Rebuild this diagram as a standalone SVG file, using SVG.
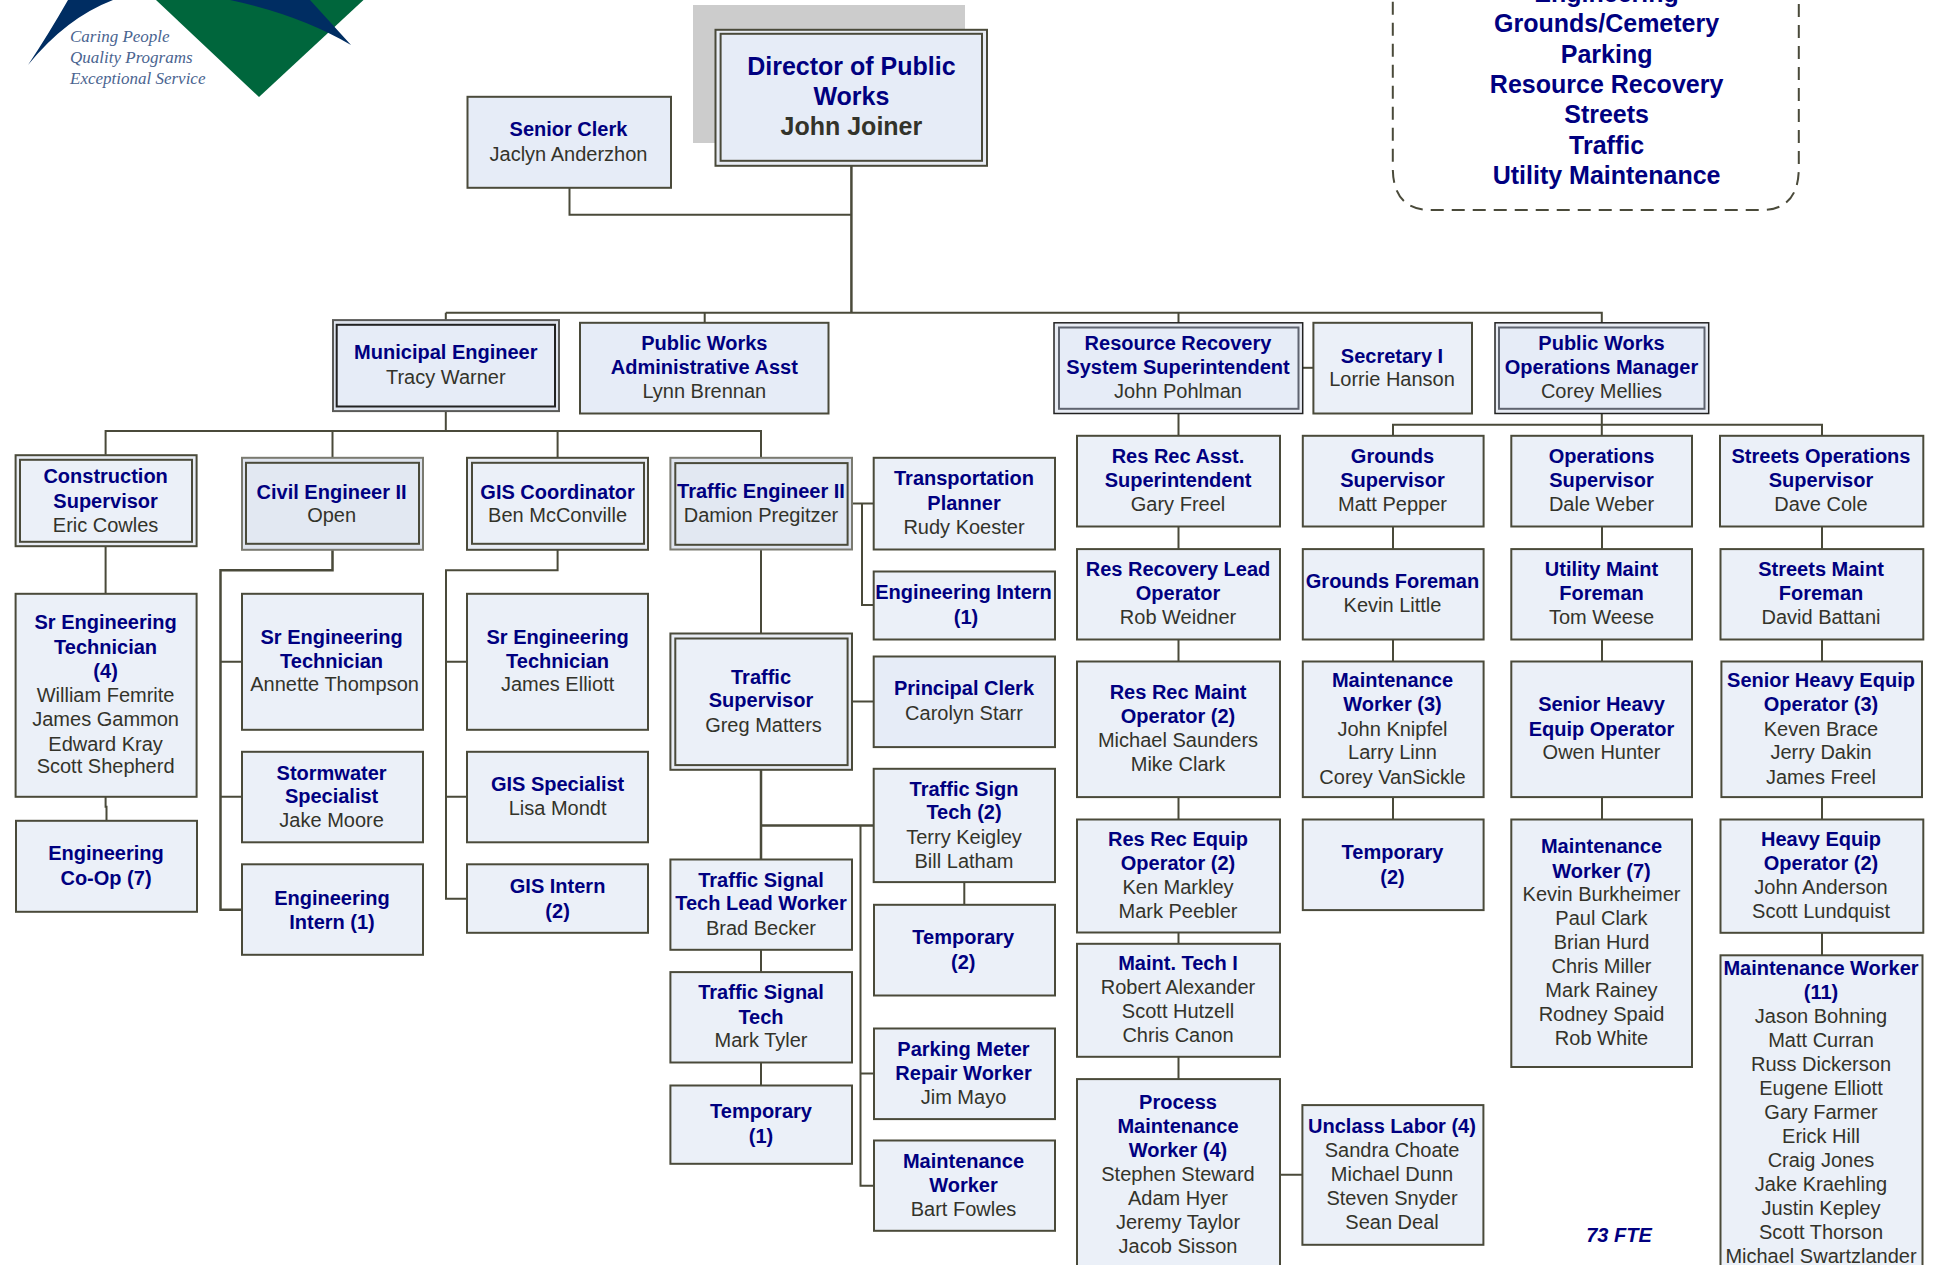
<svg xmlns="http://www.w3.org/2000/svg" width="1936" height="1265" viewBox="0 0 1936 1265">
<style>
text{font-family:"Liberation Sans",Arial,sans-serif;font-size:20px;text-anchor:middle}
.t{font-weight:bold;fill:#000080}
.n{fill:#33332a}
.big{font-size:25px}
.b{fill:#ebf0f8;stroke:#4a4a3a;stroke-width:2}
.c{fill:#e6ecf7}
.d{fill:#e2e8f2}
.o{fill:#e8ecf4;stroke:#4a4a3a;stroke-width:2}
.ol{fill:#dfe4ee;stroke:#7a7a70;stroke-width:2}
.ok{fill:#e8ecf4;stroke:#222222;stroke-width:1.500}
.l{fill:none;stroke:#4a4a3a;stroke-width:2}
.l3{fill:none;stroke:#4a4a3a;stroke-width:2.500}
.logo{font-family:"Liberation Serif","Times New Roman",serif;font-style:italic;font-size:17px;text-anchor:start;fill:#4a6490}
</style>
<rect width="1936" height="1265" fill="#ffffff"/>
<g id="logo">
<path d="M156 0L259 97L363.500 0Z" fill="#00663c"/>
<path d="M68 0Q48 35 28 65Q66 18 113 0Z" fill="#002d62"/>
<path d="M230 0Q300 15 351 45L310 0Z" fill="#002d62"/>
<text class="logo" x="70" y="41.500">Caring People</text>
<text class="logo" x="70" y="63">Quality Programs</text>
<text class="logo" x="70" y="84">Exceptional Service</text>
</g>
<rect id="backdrop" x="693" y="5" width="272" height="138" fill="#cccccc"/>
<g transform="translate(0 0.800)">
<g id="connectors">
<path class="l3" d="M851.400 165V312"/>
<path class="l" d="M569.500 187V214H851.400"/>
<path class="l" d="M445.800 312H1601.800V322"/>
<path class="l" d="M445.800 312V320M704.700 312V322M1178.500 312V322"/>
<path class="l" d="M1302.700 367H1313.400"/>
<path class="l" d="M445.800 410V430.300"/>
<path class="l" d="M105.600 454V430.300H761V457M332.500 430.300V457M557.600 430.300V457"/>
<path class="l" d="M105.600 545V593M105.600 796V806H106.500V820"/>
<path class="l3" d="M332.500 549V569.400H220.500V909H242"/>
<path class="l" d="M220.500 661H242M220.500 796H242"/>
<path class="l" d="M557.600 549V569.400H446V898H467M446 661H467M446 796H467"/>
<path class="l" d="M852 502.700H873.700M862 502.700V604.300H873.700"/>
<path class="l" d="M761 548.700V632.700M852 700.700H873.700"/>
<path class="l3" d="M761 769V858.700M761 824.700H873.700"/>
<path class="l" d="M860.500 824.700V1185H874M860.500 1072.700H874"/>
<path class="l" d="M964.300 881V904M761 949V971.300M761 1061.700V1084.700"/>
<path class="l" d="M1178.500 412.700V435M1178.500 525.700V548.300M1178.500 638.700V660.700M1178.500 796.300V818.700M1178.500 931.700V943M1178.500 1056V1078.300M1280 1174H1302.400"/>
<path class="l" d="M1601.800 412.700V435M1393 435V424H1822V435"/>
<path class="l" d="M1393 525.700V548.300M1393 638.700V660.700M1393 796.300V818.700"/>
<path class="l" d="M1602 525.700V548.300M1602 638.700V660.700M1602 796.300V818.700"/>
<path class="l" d="M1822 525.700V548.300M1822 638.700V660.700M1822 796.300V818.700M1822 932V954.500"/>
</g>
<g id="areas">
<path d="M1392.800 -20V167Q1392.800 209.300 1431 209.300H1761Q1798.800 209.300 1798.800 167V-20" fill="none" stroke="#4a4a3a" stroke-width="2" stroke-dasharray="13 8"/>
<text class="t big" x="1606.600" y="1.500">Engineering</text>
<text class="t big" x="1606.600" y="31.700">Grounds/Cemetery</text>
<text class="t big" x="1606.600" y="62">Parking</text>
<text class="t big" x="1606.600" y="92">Resource Recovery</text>
<text class="t big" x="1606.600" y="122.500">Streets</text>
<text class="t big" x="1606.600" y="153">Traffic</text>
<text class="t big" x="1606.600" y="183">Utility Maintenance</text>
<text class="t" style="font-style:italic" x="1619" y="1241.700">73 FTE</text>
</g>
<g id="director"><rect class="o" x="715.500" y="29" width="271.500" height="136"/><rect class="b c" x="720.600" y="33" width="261.400" height="127"/>
<text class="t big" x="851.400" y="74">Director of Public</text><text class="t big" x="851.400" y="104">Works</text><text class="n big" x="851.400" y="134" style="font-weight:bold">John Joiner</text></g>
<g id="senior-clerk"><rect class="b c" x="467.500" y="96" width="203.500" height="91"/>
<text class="t" x="568.500" y="135.700">Senior Clerk</text><text class="n" x="568.500" y="160">Jaclyn Anderzhon</text></g>
<g id="municipal-engineer"><rect class="ol" style="stroke:#5a5a58" x="333" y="319.300" width="226" height="91"/><rect class="b c" style="stroke:#222222" x="336.700" y="324" width="218.300" height="81.700"/>
<text class="t" x="445.800" y="358.300">Municipal Engineer</text><text class="n" x="445.800" y="383.300">Tracy Warner</text></g>
<g id="pw-admin"><rect class="b c" x="580" y="322" width="248.500" height="90.700"/>
<text class="t" x="704.300" y="349">Public Works</text><text class="t" x="704.300" y="373">Administrative Asst</text><text class="n" x="704.300" y="397">Lynn Brennan</text></g>
<g id="rr-superintendent"><rect class="ok" x="1054" y="322" width="248.700" height="90.700"/><rect class="b c" style="stroke:#5f6470" x="1059" y="326.700" width="239.500" height="81.300"/>
<text class="t" x="1178" y="349">Resource Recovery</text><text class="t" x="1178" y="373">System Superintendent</text><text class="n" x="1178" y="397">John Pohlman</text></g>
<g id="secretary"><rect class="b" x="1313.400" y="322" width="158.600" height="90.700"/>
<text class="t" x="1392" y="362">Secretary I</text><text class="n" x="1392" y="385">Lorrie Hanson</text></g>
<g id="pw-ops"><rect class="ok" x="1495" y="322" width="213.700" height="90.700"/><rect class="b c" style="stroke:#5f6470" x="1499" y="326.700" width="205.500" height="81.300"/>
<text class="t" x="1601.500" y="349">Public Works</text><text class="t" x="1601.500" y="373">Operations Manager</text><text class="n" x="1601.500" y="397">Corey Mellies</text></g>
<g id="construction"><rect class="o" x="15.600" y="454.400" width="181" height="91"/><rect class="b" x="20" y="459" width="172" height="82"/>
<text class="t" x="105.600" y="482.700">Construction</text><text class="t" x="105.600" y="506.800">Supervisor</text><text class="n" x="105.600" y="531">Eric Cowles</text></g>
<g id="civil"><rect class="ol" x="242" y="457" width="181" height="92"/><rect class="b d" x="246" y="462" width="173" height="81"/>
<text class="t" x="331.600" y="497.800">Civil Engineer II</text><text class="n" x="331.600" y="521.600">Open</text></g>
<g id="gis-coord"><rect class="o" x="467" y="457" width="181" height="92"/><rect class="b" x="472" y="462" width="172" height="81"/>
<text class="t" x="557.600" y="497.800">GIS Coordinator</text><text class="n" x="557.600" y="521.600">Ben McConville</text></g>
<g id="traffic-eng"><rect class="ol" x="670.400" y="457" width="181.600" height="91.700"/><rect class="b d" x="675.300" y="462.300" width="172.300" height="81.700"/>
<text class="t" x="761" y="497.300">Traffic Engineer II</text><text class="n" x="761" y="521.300">Damion Pregitzer</text></g>
<g id="transportation"><rect class="b" x="873.700" y="457" width="181.300" height="91.700"/>
<text class="t" x="964" y="484.300">Transportation</text><text class="t" x="964" y="509.300">Planner</text><text class="n" x="964" y="533.300">Rudy Koester</text></g>
<g id="eng-intern-t"><rect class="b" x="873.700" y="570.700" width="181.300" height="68"/>
<text class="t" x="963.500" y="598.700">Engineering Intern</text><text class="t" x="966" y="623.300">(1)</text></g>
<g id="sr-eng-4"><rect class="b" x="15.600" y="593" width="181" height="203"/>
<text class="t" x="105.600" y="628.700">Sr Engineering</text><text class="t" x="105.600" y="652.800">Technician</text><text class="t" x="105.600" y="677.600">(4)</text>
<text class="n" x="105.600" y="701.700">William Femrite</text><text class="n" x="105.600" y="725">James Gammon</text><text class="n" x="105.600" y="750">Edward Kray</text><text class="n" x="105.600" y="772.600">Scott Shepherd</text></g>
<g id="coop"><rect class="b" x="16" y="820" width="181" height="91"/>
<text class="t" x="106" y="859.700">Engineering</text><text class="t" x="106" y="883.800">Co-Op (7)</text></g>
<g id="sr-eng-annette"><rect class="b" x="242" y="593" width="181" height="136"/>
<text class="t" x="331.600" y="642.800">Sr Engineering</text><text class="t" x="331.600" y="667">Technician</text><text class="n" x="334.600" y="690.700">Annette Thompson</text></g>
<g id="stormwater"><rect class="b" x="242" y="751" width="181" height="90.500"/>
<text class="t" x="331.600" y="778.800">Stormwater</text><text class="t" x="331.600" y="802.600">Specialist</text><text class="n" x="331.600" y="826.700">Jake Moore</text></g>
<g id="eng-intern-c"><rect class="b" x="242" y="863.500" width="181" height="90.500"/>
<text class="t" x="332" y="903.800">Engineering</text><text class="t" x="332" y="928">Intern (1)</text></g>
<g id="sr-eng-james"><rect class="b" x="467" y="593" width="181" height="136"/>
<text class="t" x="557.600" y="642.800">Sr Engineering</text><text class="t" x="557.600" y="667">Technician</text><text class="n" x="557.600" y="690.700">James Elliott</text></g>
<g id="gis-spec"><rect class="b" x="467" y="751" width="181" height="90.500"/>
<text class="t" x="557.600" y="790.500">GIS Specialist</text><text class="n" x="557.600" y="814.300">Lisa Mondt</text></g>
<g id="gis-intern"><rect class="b" x="467" y="863.500" width="181" height="68.500"/>
<text class="t" x="557.600" y="891.800">GIS Intern</text><text class="t" x="557.600" y="917.600">(2)</text></g>
<g id="traffic-sup"><rect class="o" x="670.400" y="632.700" width="181.600" height="136.300"/><rect class="b" x="675.300" y="637.700" width="172.300" height="126.600"/>
<text class="t" x="761" y="683.300">Traffic</text><text class="t" x="761" y="706.700">Supervisor</text><text class="n" x="763.500" y="731.700">Greg Matters</text></g>
<g id="principal-clerk"><rect class="b c" x="873.700" y="655.700" width="181.300" height="90.600"/>
<text class="t" x="964" y="694.300">Principal Clerk</text><text class="n" x="964" y="719.300">Carolyn Starr</text></g>
<g id="traffic-sign"><rect class="b" x="873.700" y="768" width="181.300" height="113.300"/>
<text class="t" x="964" y="795.300">Traffic Sign</text><text class="t" x="964" y="818.700">Tech (2)</text><text class="n" x="964" y="843.300">Terry Keigley</text><text class="n" x="964" y="867.300">Bill Latham</text></g>
<g id="temp-2-t"><rect class="b" x="874" y="904" width="181" height="90.700"/>
<text class="t" x="963.300" y="943.300">Temporary</text><text class="t" x="963.300" y="968.300">(2)</text></g>
<g id="parking-meter"><rect class="b" x="874" y="1027.700" width="181" height="90.600"/>
<text class="t" x="963.500" y="1055.300">Parking Meter</text><text class="t" x="963.500" y="1079">Repair Worker</text><text class="n" x="963.500" y="1103.300">Jim Mayo</text></g>
<g id="maint-bart"><rect class="b" x="874" y="1139.700" width="181" height="90.300"/>
<text class="t" x="963.500" y="1167.300">Maintenance</text><text class="t" x="963.500" y="1191">Worker</text><text class="n" x="963.500" y="1215">Bart Fowles</text></g>
<g id="signal-lead"><rect class="b" x="670.400" y="858.700" width="181.600" height="90.300"/>
<text class="t" x="761" y="886">Traffic Signal</text><text class="t" x="761" y="909.300">Tech Lead Worker</text><text class="n" x="761" y="934">Brad Becker</text></g>
<g id="signal-tech"><rect class="b" x="670.400" y="971.300" width="181.600" height="90.400"/>
<text class="t" x="761" y="998.300">Traffic Signal</text><text class="t" x="761" y="1023.300">Tech</text><text class="n" x="761" y="1046">Mark Tyler</text></g>
<g id="temp-1"><rect class="b" x="670.400" y="1084.700" width="181.600" height="78.300"/>
<text class="t" x="761" y="1117.700">Temporary</text><text class="t" x="761" y="1142.700">(1)</text></g>
<g id="rr-asst"><rect class="b" x="1077" y="435" width="203" height="90.700"/>
<text class="t" x="1178" y="462.300">Res Rec Asst.</text><text class="t" x="1178" y="486.300">Superintendent</text><text class="n" x="1178" y="510.300">Gary Freel</text></g>
<g id="rr-lead"><rect class="b" x="1077" y="548.300" width="203" height="90.400"/>
<text class="t" x="1178" y="575.300">Res Recovery Lead</text><text class="t" x="1178" y="599.300">Operator</text><text class="n" x="1178" y="623.300">Rob Weidner</text></g>
<g id="rr-maint"><rect class="b" x="1077" y="660.700" width="203" height="135.600"/>
<text class="t" x="1178" y="698.300">Res Rec Maint</text><text class="t" x="1178" y="722.300">Operator (2)</text><text class="n" x="1178" y="746">Michael Saunders</text><text class="n" x="1178" y="770">Mike Clark</text></g>
<g id="rr-equip"><rect class="b" x="1077" y="818.700" width="203" height="113"/>
<text class="t" x="1178" y="845.300">Res Rec Equip</text><text class="t" x="1178" y="869.300">Operator (2)</text><text class="n" x="1178" y="893.300">Ken Markley</text><text class="n" x="1178" y="917.300">Mark Peebler</text></g>
<g id="maint-tech"><rect class="b" x="1077" y="943" width="203" height="113"/>
<text class="t" x="1178" y="969.300">Maint. Tech I</text><text class="n" x="1178" y="993.300">Robert Alexander</text><text class="n" x="1178" y="1017">Scott Hutzell</text><text class="n" x="1178" y="1041">Chris Canon</text></g>
<g id="process"><rect class="b" x="1077" y="1078.300" width="203" height="200"/>
<text class="t" x="1178" y="1108.300">Process</text><text class="t" x="1178" y="1132.300">Maintenance</text><text class="t" x="1178" y="1156">Worker (4)</text><text class="n" x="1178" y="1180">Stephen Steward</text><text class="n" x="1178" y="1204">Adam Hyer</text><text class="n" x="1178" y="1228">Jeremy Taylor</text><text class="n" x="1178" y="1252">Jacob Sisson</text></g>
<g id="unclass"><rect class="b" x="1302.400" y="1104.300" width="181" height="139.700"/>
<text class="t" x="1392" y="1132">Unclass Labor (4)</text><text class="n" x="1392" y="1156">Sandra Choate</text><text class="n" x="1392" y="1180">Michael Dunn</text><text class="n" x="1392" y="1204">Steven Snyder</text><text class="n" x="1392" y="1228">Sean Deal</text></g>
<g id="grounds-sup"><rect class="b" x="1302.800" y="435" width="180.800" height="90.700"/>
<text class="t" x="1392.500" y="462.300">Grounds</text><text class="t" x="1392.500" y="486.300">Supervisor</text><text class="n" x="1392.500" y="510.300">Matt Pepper</text></g>
<g id="grounds-foreman"><rect class="b" x="1302.800" y="548.300" width="180.800" height="90.400"/>
<text class="t" x="1392.500" y="587.300">Grounds Foreman</text><text class="n" x="1392.500" y="611.300">Kevin Little</text></g>
<g id="maint-3"><rect class="b" x="1302.800" y="660.700" width="180.800" height="135.600"/>
<text class="t" x="1392.500" y="686.300">Maintenance</text><text class="t" x="1392.500" y="710.300">Worker (3)</text><text class="n" x="1392.500" y="735">John Knipfel</text><text class="n" x="1392.500" y="758.300">Larry Linn</text><text class="n" x="1392.500" y="783">Corey VanSickle</text></g>
<g id="temp-2-g"><rect class="b" x="1302.800" y="818.700" width="180.800" height="90.600"/>
<text class="t" x="1392.500" y="858.700">Temporary</text><text class="t" x="1392.500" y="883.300">(2)</text></g>
<g id="ops-sup"><rect class="b" x="1511.300" y="435" width="180.700" height="90.700"/>
<text class="t" x="1601.500" y="462.300">Operations</text><text class="t" x="1601.500" y="486.300">Supervisor</text><text class="n" x="1601.500" y="510.300">Dale Weber</text></g>
<g id="utility-foreman"><rect class="b" x="1511.300" y="548.300" width="180.700" height="90.400"/>
<text class="t" x="1601.500" y="575.300">Utility Maint</text><text class="t" x="1601.500" y="599.300">Foreman</text><text class="n" x="1601.500" y="623.300">Tom Weese</text></g>
<g id="senior-heavy"><rect class="b" x="1511.300" y="660.700" width="180.700" height="135.600"/>
<text class="t" x="1601.500" y="710.300">Senior Heavy</text><text class="t" x="1601.500" y="735.300">Equip Operator</text><text class="n" x="1601.500" y="758.300">Owen Hunter</text></g>
<g id="maint-7"><rect class="b" x="1511.300" y="818.700" width="180.700" height="247.500"/>
<text class="t" x="1601.500" y="852.300">Maintenance</text><text class="t" x="1601.500" y="877.300">Worker (7)</text><text class="n" x="1601.500" y="900">Kevin Burkheimer</text><text class="n" x="1601.500" y="924">Paul Clark</text><text class="n" x="1601.500" y="948">Brian Hurd</text><text class="n" x="1601.500" y="972">Chris Miller</text><text class="n" x="1601.500" y="996">Mark Rainey</text><text class="n" x="1601.500" y="1020">Rodney Spaid</text><text class="n" x="1601.500" y="1044">Rob White</text></g>
<g id="streets-sup"><rect class="b" x="1720" y="435" width="203.300" height="90.700"/>
<text class="t" x="1821" y="462.300">Streets Operations</text><text class="t" x="1821" y="486.300">Supervisor</text><text class="n" x="1821" y="510.300">Dave Cole</text></g>
<g id="streets-foreman"><rect class="b" x="1720.500" y="548.300" width="202.800" height="90.400"/>
<text class="t" x="1821" y="575.300">Streets Maint</text><text class="t" x="1821" y="599.300">Foreman</text><text class="n" x="1821" y="623.300">David Battani</text></g>
<g id="senior-heavy-3"><rect class="b" x="1721.400" y="660.700" width="200.600" height="135.600"/>
<text class="t" x="1821" y="686.300">Senior Heavy Equip</text><text class="t" x="1821" y="710.300">Operator (3)</text><text class="n" x="1821" y="735">Keven Brace</text><text class="n" x="1821" y="758.300">Jerry Dakin</text><text class="n" x="1821" y="783">James Freel</text></g>
<g id="heavy-2"><rect class="b" x="1720.500" y="818.700" width="202.800" height="113.300"/>
<text class="t" x="1821" y="845.300">Heavy Equip</text><text class="t" x="1821" y="869.300">Operator (2)</text><text class="n" x="1821" y="893.300">John Anderson</text><text class="n" x="1821" y="917.300">Scott Lundquist</text></g>
<g id="maint-11"><rect class="b" x="1720.500" y="954.500" width="202" height="340"/>
<text class="t" x="1821" y="974">Maintenance Worker</text><text class="t" x="1821" y="998">(11)</text><text class="n" x="1821" y="1022">Jason Bohning</text><text class="n" x="1821" y="1046">Matt Curran</text><text class="n" x="1821" y="1070">Russ Dickerson</text><text class="n" x="1821" y="1094">Eugene Elliott</text><text class="n" x="1821" y="1118">Gary Farmer</text><text class="n" x="1821" y="1142">Erick Hill</text><text class="n" x="1821" y="1166">Craig Jones</text><text class="n" x="1821" y="1190">Jake Kraehling</text><text class="n" x="1821" y="1214">Justin Kepley</text><text class="n" x="1821" y="1238">Scott Thorson</text><text class="n" x="1821" y="1262">Michael Swartzlander</text></g>
</g>
</svg>
